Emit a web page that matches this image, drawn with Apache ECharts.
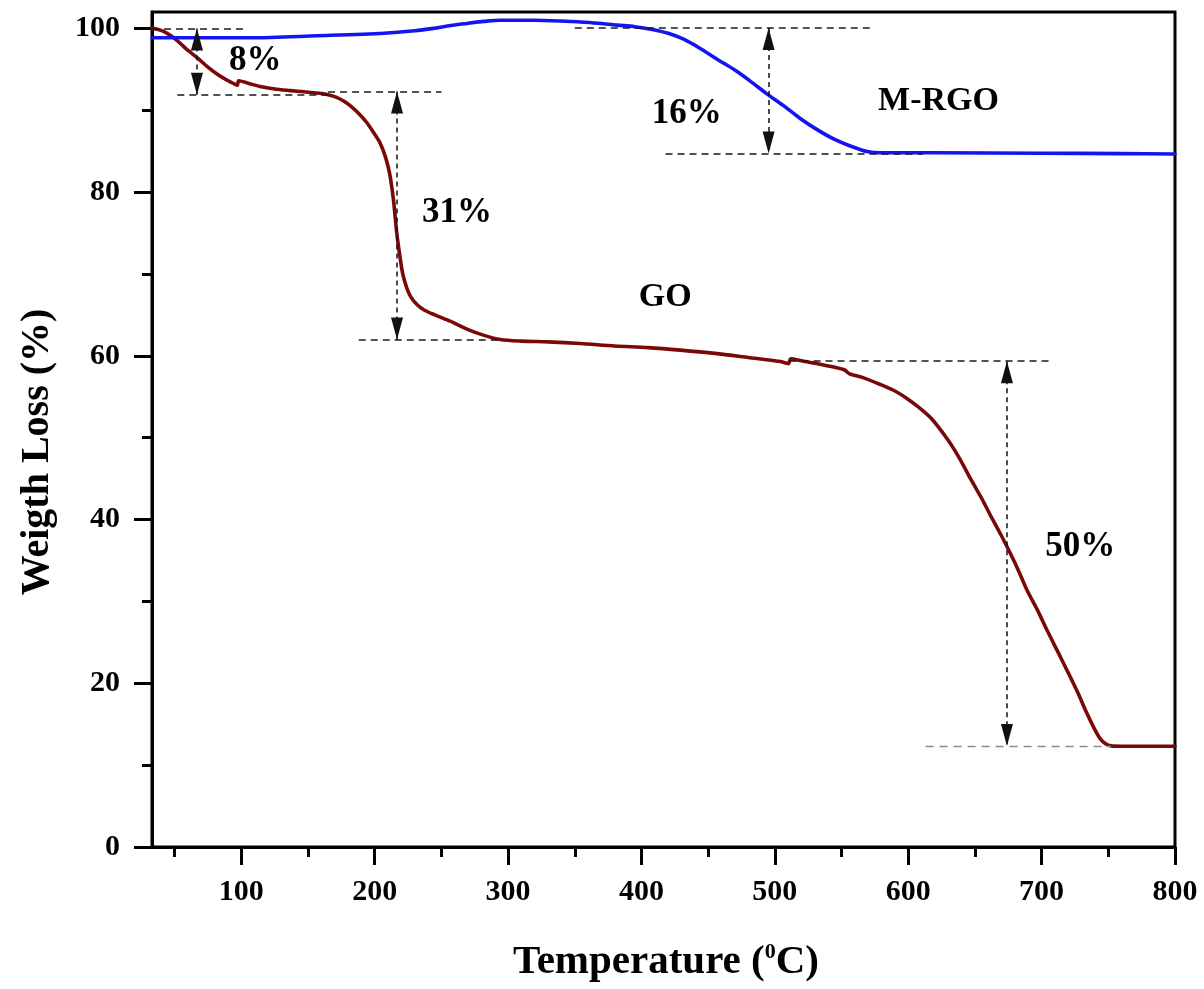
<!DOCTYPE html>
<html><head><meta charset="utf-8">
<script src="https://cdn.jsdelivr.net/npm/echarts@6/dist/echarts.min.js"></script>
<style>html,body{margin:0;padding:0;background:#fff}#c{width:1204px;height:989px}</style>
</head><body><div id="c"></div>
<script>
// ---- data (temperature in °C, weight in %) ----
const goTemp = [33,37,42,48,54,60,67,74,82,89,95.5,97,98,105,114,125,137,147,157,165,171,177,182,188,194,199,204,208,211,214,216.5,219,221,224,227,232,237,245,257,270,282,294,310,330,354,380,405,429,455,480,504,510,512,520,530,545,552,556,565,579,590,599,608,617,629,638,647,655,662,668,674,682,689,697,704,712,719,727,734,740,744,748,752,760,780,800];
const goWeight = [100.0,99.9,99.6,99.0,98.2,97.3,96.4,95.4,94.4,93.7,93.15,93.05,93.6,93.3,92.9,92.6,92.4,92.25,92.1,91.9,91.6,91.1,90.5,89.6,88.5,87.3,86.0,84.3,82.4,79.1,75.0,72.0,70.0,68.3,67.2,66.2,65.6,65.0,64.2,63.2,62.5,62.0,61.8,61.7,61.5,61.2,61.0,60.7,60.3,59.8,59.3,59.05,59.65,59.4,59.1,58.6,58.3,57.8,57.4,56.5,55.7,54.8,53.7,52.4,49.9,47.6,44.9,42.6,40.4,38.6,36.7,34.0,31.4,28.9,26.5,23.9,21.6,18.9,16.3,14.3,13.2,12.6,12.35,12.3,12.3,12.3];
const mrgoTemp = [33,60,107,157,207,230,244,257,269,282,294,319,340,357,370,382,395,407,420,432,444,457,470,482,494,507,519,532,544,557,569,580,620,700,760,800];
const mrgoWeight = [98.85,98.85,98.85,99.1,99.4,99.7,100.0,100.35,100.6,100.85,101.0,101.0,100.9,100.75,100.6,100.4,100.2,99.9,99.4,98.65,97.55,96.2,94.9,93.5,92.0,90.5,89.0,87.6,86.5,85.6,84.95,84.8,84.8,84.75,84.7,84.65];

const xTicks = [100,200,300,400,500,600,700,800];
const xMinorTicks = [50,150,250,350,450,550,650,750];
const yTicks = [0,20,40,60,80,100];
const yMinorTicks = [10,30,50,70,90];

// guide lines: [tStart, tEnd, weight]
const guideLines = [[33,105,99.97],[52,165,91.85],[165,250,92.3],[188,294,62.0],[350,572,100.05],[418,611,84.7],[511,706,59.35]];
const greyGuideLines = [[613,752,12.35]];
// double arrows: [t, weightTop, weightBottom]
const arrows = [[66.7,99.97,91.9],[216.7,92.3,62.0],[495.3,100.05,84.7],[674,59.35,12.35]];
// text annotations: [text, t, weight]
const pctLabels = [['8%',110.5,96.0],['31%',261.7,77.4],['16%',434,89.5],['50%',729,36.7]];
const nameLabels = [['GO',417.8,67.2],['M-RGO',622.7,91.1]];

const FONT = '"Liberation Serif","Times New Roman",serif';
const zip = (a,b) => a.map((v,i)=>[v,b[i]]);

const dashStyle = {color:'#1a1a1a', width:1.5, type:[7,5]};
const greyDash = {color:'#8a8a8a', width:1.3, type:[8,6]};
const markData = [];
guideLines.forEach(g => markData.push([{coord:[g[0],g[2]], symbol:'none', lineStyle:dashStyle},{coord:[g[1],g[2]], symbol:'none'}]));
greyGuideLines.forEach(g => markData.push([{coord:[g[0],g[2]], symbol:'none', lineStyle:greyDash},{coord:[g[1],g[2]], symbol:'none'}]));
arrows.forEach(a => markData.push([
  {coord:[a[0],a[1]], symbol:'triangle', symbolSize:[12,22], symbolOffset:[0,'50%'], lineStyle:{color:'#111', width:1.5, type:[5,4]}, itemStyle:{color:'#000'}},
  {coord:[a[0],a[2]], symbol:'triangle', symbolSize:[12,22], symbolOffset:[0,'50%'], itemStyle:{color:'#000'}}
]));

const axisLineStyle = {color:'#000', width:3};
const chart = echarts.init(document.getElementById('c'), null, {renderer:'canvas'});
chart.setOption({
  animation:false,
  backgroundColor:'#fff',
  grid:{left:152, right:29, top:12, bottom:142, show:true, borderColor:'#000', borderWidth:3, backgroundColor:'transparent'},
  xAxis:[
    {type:'value', min:33, max:800, position:'bottom',
     axisLine:{show:true, onZero:false, lineStyle:axisLineStyle},
     axisTick:{show:true, inside:false, length:18, lineStyle:axisLineStyle, customValues:xTicks},
     axisLabel:{customValues:xTicks, margin:30, fontSize:30, fontWeight:'bold', fontFamily:FONT, color:'#000'},
     splitLine:{show:false}},
    {type:'value', min:33, max:800, position:'bottom',
     axisLine:{show:false},
     axisTick:{show:true, inside:false, length:10, lineStyle:axisLineStyle, customValues:xMinorTicks},
     axisLabel:{show:false}, splitLine:{show:false}}
  ],
  yAxis:[
    {type:'value', min:0, max:102, position:'left',
     axisLine:{show:true, onZero:false, lineStyle:axisLineStyle},
     axisTick:{show:true, inside:false, length:18, lineStyle:axisLineStyle, customValues:yTicks},
     axisLabel:{customValues:yTicks, margin:32, fontSize:30, fontWeight:'bold', fontFamily:FONT, color:'#000'},
     splitLine:{show:false}},
    {type:'value', min:0, max:102, position:'left',
     axisLine:{show:false},
     axisTick:{show:true, inside:false, length:10, lineStyle:axisLineStyle, customValues:yMinorTicks},
     axisLabel:{show:false}, splitLine:{show:false}}
  ],
  series:[
    {name:'GO', type:'line', data:zip(goTemp,goWeight), showSymbol:false, smooth:0.3,
     lineStyle:{color:'#7a0808', width:3.6, join:'round', cap:'round'}, silent:true, z:3,
     markLine:{silent:true, animation:false, symbol:['none','none'], label:{show:false}, emphasis:{disabled:true}, data:markData}},
    {name:'M-RGO', type:'line', data:zip(mrgoTemp,mrgoWeight), showSymbol:false, smooth:0.3,
     lineStyle:{color:'#1414f2', width:3.6, join:'round', cap:'round'}, silent:true, z:3}
  ]
});

// text annotations placed through the chart's own coordinate conversion
const graphics = [];
pctLabels.concat(nameLabels).forEach((l, i) => {
  const p = chart.convertToPixel({gridIndex:0}, [l[1], l[2]]);
  const size = i < pctLabels.length ? 35 : 34;
  graphics.push({type:'text', x:p[0], y:p[1], silent:true, z:10, style:{
    text:l[0], font:'bold ' + size + 'px ' + FONT, fill:'#000', align:'center', verticalAlign:'middle'}});
});
graphics.push({type:'text', x:666, y:962, silent:true, style:{
  text:'{a|Temperature (}{s|0}{a|C)}', align:'center', verticalAlign:'middle',
  rich:{a:{fontSize:41, fontWeight:'bold', fontFamily:FONT, fill:'#000'},
        s:{fontSize:22, fontWeight:'bold', fontFamily:FONT, fill:'#000', verticalAlign:'top'}}}});
graphics.push({type:'text', x:38, y:452, rotation:Math.PI/2, silent:true, style:{
  text:'Weigth Loss (%)', font:'bold 40px ' + FONT, align:'center', verticalAlign:'middle', fill:'#000'}});
chart.setOption({graphic:graphics});
</script></body></html>
